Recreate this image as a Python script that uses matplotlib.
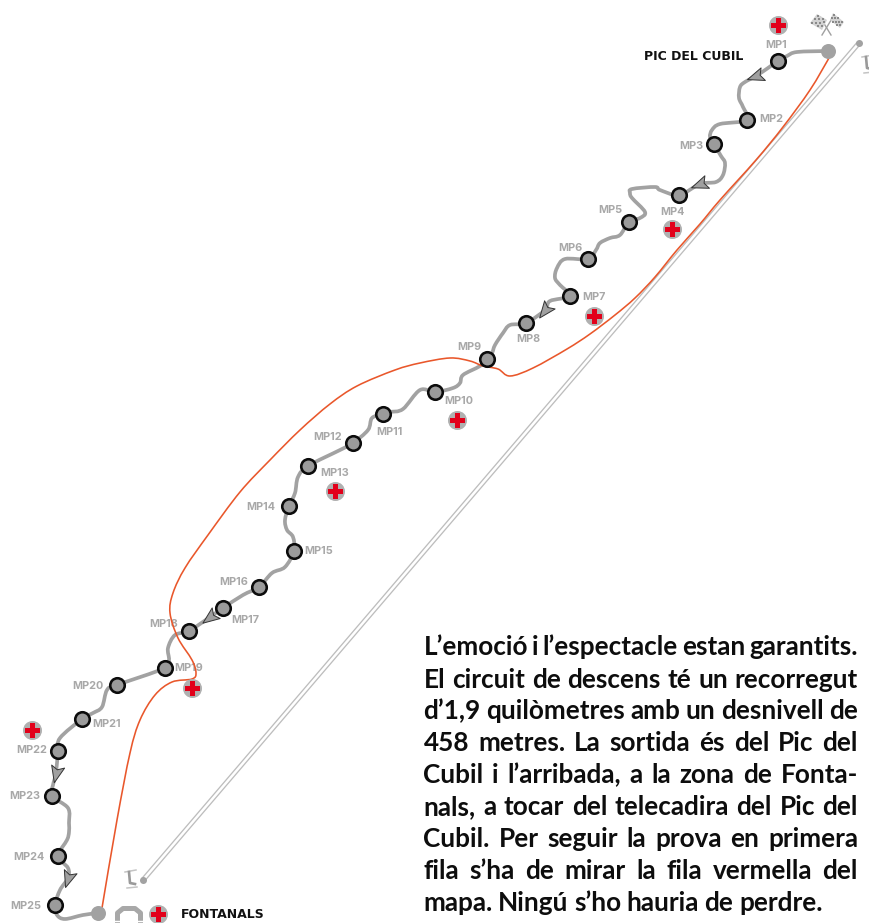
import numpy as np
import matplotlib
matplotlib.use("Agg")
import matplotlib.pyplot as plt
from matplotlib.path import Path
from matplotlib.patches import PathPatch, Polygon
from matplotlib.markers import MarkerStyle
from matplotlib.transforms import Affine2D

# route (picture coordinates)
route_x = [828,797,787,778,768,756,745,740,739,743,747,720,712,710,714,721,725,723,716,700,679,660,655,632,630,632,645,640,629,620,610,600,596,588,565,557,555,560,570,550,545,526,510,503,495,492,487,480,463,460,453,435,420,403,390,383,372,368,353,340,308,298,295,289,285,287,293,294,285,272,259,243,223,210,189,175,168,169,165,117,107,102,93,82,60,58,56,53,52,68,69,69,67,58,68,68,60,55,57,65,83,98]
route_y = [51,52,56,61,68,76,82,87,98,107,120,124,130,137,144,156,163,175,182,184,195,190,187,189,193,198,212,218,222,235,238,243,250,259,259,268,278,285,296,301,310,323,325,333,345,353,359,366,375,383,388,392,390,409,412,414,418,430,443,450,466,477,493,506,520,530,537,551,567,573,587,595,608,617,631,635,648,660,668,685,690,707,713,719,738,751,773,785,796,808,823,832,840,856,868,878,890,905,915,919,915,913]

# finish line (red)
red_x = [829,810,783,756,720,700,677,655,635,615,590,567,533,510,498,483,470,450,420,395,357,330,300,270,240,208,185,173,170,178,192,196,192,172,155,140,130,117,102]
red_y = [58,90,127,160,200,224,250,277,298,315,334,349,368,376,369,366,361,358,363,370,386,404,430,460,492,535,568,593,613,638,660,673,679,682,695,720,753,820,908]

# checkpoints
mp_names = [f"MP{i}" for i in range(1, 26)]
mp_x = [778,747,714,679,629,588,570,526,487,435,383,353,308,289,294,259,223,189,165,117,82,58,52,58,55]
mp_y = [61,120,144,195,222,259,296,323,359,392,414,443,466,506,551,587,608,631,668,685,719,751,796,856,905]
label_x = [776,771,691,672,610,570,594,528,469,459,389,328,335,261,319,234,245,164,189,88,107,32,25,29,26]
label_y = [45,119,146,212,210,248,297,339,347,401,432,437,473,507,551,582,620,624,668,686,724,750,796,857,906]

# first aid
aid_x = [778,672,594,457,335,192,32,158]
aid_y = [25,229,316,420,491,688,730,914]

# direction arrows: centre, tip direction in picture coordinates
arrow_x = [756,700,545,210,56,68]
arrow_y = [76,184,310,617,773,878]
arrow_dx = [-61,-38,-21,-32,-8,-10]
arrow_dy = [21,14,27,24,34,31]

# chair lift
lift_x = [859,143]
lift_y = [43,880]

body_lines = [
    "L’emoció i l’espectacle estan garantits.",
    "El circuit de descens té un recorregut",
    "d’1,9 quilòmetres amb un desnivell de",
    "458 metres. La sortida és del Pic del",
    "Cubil i l’arribada, a la zona de Fonta-",
    "nals, a tocar del telecadira del Pic del",
    "Cubil. Per seguir la prova en primera",
    "fila s’ha de mirar la fila vermella del",
    "mapa. Ningú s’ho hauria de perdre.",
]
body_base = [655,688,719,751,783,815,847,879,911]

GREY = "#a2a2a2"
LABEL = "#a8a8a8"
RED = "#e9572b"
PX = 0.72

fig = plt.figure(figsize=(8.7, 9.23), dpi=100, facecolor="white")
ax = fig.add_axes([0, 0, 1, 1])
ax.set_xlim(0, 870)
ax.set_ylim(923, 0)
ax.axis("off")


def smooth_path(xs, ys, k=1 / 6):
    p = np.column_stack([xs, ys]).astype(float)
    verts = [p[0]]
    codes = [Path.MOVETO]
    for i in range(len(p) - 1):
        p0 = p[max(i - 1, 0)]
        p1 = p[i]
        p2 = p[i + 1]
        p3 = p[min(i + 2, len(p) - 1)]
        verts += [p1 + (p2 - p0) * k, p2 - (p3 - p1) * k, p2]
        codes += [Path.CURVE4] * 3
    return Path(verts, codes)


# chair lift lines
lx = np.array(lift_x, float)
ly = np.array(lift_y, float)
d = np.array([lx[1] - lx[0], ly[1] - ly[0]])
n = np.array([-d[1], d[0]]) / np.hypot(*d)
for s in (-1.9, 1.9):
    ax.plot(lx + n[0] * s, ly + n[1] * s, color="#bdbdbd", lw=1.3 * PX, zorder=1, solid_capstyle="butt")
ax.scatter(lift_x, lift_y, s=(7 * PX) ** 2, color=GREY, lw=0, zorder=2)

# chair icons
for cx, cy in [(868, 64), (131, 879)]:
    ax.plot([cx - 6, cx + 5], [cy - 7, cy - 9], color="#c4c4c4", lw=1.1, zorder=2)
    ax.plot([cx - 4, cx + 6], [cy + 9, cy + 8], color="#c4c4c4", lw=1.1, zorder=2)
    ax.plot([cx - 2, cx - 1, cx + 4], [cy - 7, cy + 4, cy + 5], color="#9a9a9a", lw=1.9, zorder=2)

# route + red line
ax.add_patch(PathPatch(smooth_path(route_x, route_y), fc="none", ec=GREY, lw=3.7 * PX, capstyle="round", joinstyle="round", zorder=3))
ax.add_patch(PathPatch(smooth_path(red_x, red_y), fc="none", ec=RED, lw=1.6 * PX, capstyle="round", zorder=4))

# end dots
ax.scatter([route_x[0], route_x[-1]], [route_y[0], route_y[-1]], s=(15 * PX) ** 2, color=GREY, lw=0, zorder=5)

# arrows
arrow_shape = Path([(1, 0), (-0.75, 0.7), (-0.4, 0), (-0.75, -0.7), (1, 0)],
                   [Path.MOVETO, Path.LINETO, Path.LINETO, Path.LINETO, Path.CLOSEPOLY])
for x, y, dx, dy in zip(arrow_x, arrow_y, arrow_dx, arrow_dy):
    ang = np.degrees(np.arctan2(-dy, dx))
    m = MarkerStyle(arrow_shape, transform=Affine2D().rotate_deg(ang))
    ax.scatter([x], [y], marker=m, s=(19 * PX) ** 2, facecolor="#a0a0a0", edgecolor="#333333", lw=0.7, zorder=6)

# checkpoints
ax.scatter(mp_x, mp_y, s=(14.5 * PX) ** 2, facecolor="#9b9b9b", edgecolor="#0c0c0c", lw=2.6 * PX, zorder=7)
for name, x, y in zip(mp_names, label_x, label_y):
    ax.text(x, y, name, family="Inter", weight="bold", fontsize=7.8, color=LABEL, ha="center", va="center", zorder=3.5)

# first aid
ax.scatter(aid_x, aid_y, s=(19 * PX) ** 2, color="#b0b0b0", lw=0, zorder=6)
ax.scatter(aid_x, aid_y, s=(15 * PX) ** 2, marker="P", color="#e2001a", lw=0, zorder=7)

# flags
ax.plot([822, 833], [35, 17], color="#a0a0a0", lw=1.0, zorder=3)
ax.plot([831, 820], [35, 17], color="#a0a0a0", lw=1.0, zorder=3)
flag_polys = [[(810, 23), (817, 14), (827, 20), (822, 30)], [(833, 13), (844, 22), (840, 28), (830, 20)]]
for poly in flag_polys:
    a, b, c, e = [np.array(v, float) for v in poly]
    ax.add_patch(Polygon(poly, closed=True, fc="#d2d2d2", ec="none", zorder=3))
    for i in range(5):
        for j in range(4):
            if (i + j) % 2 == 0:
                u = (i + 0.5) / 5
                v = (j + 0.5) / 4
                pt = (1 - u) * ((1 - v) * a + v * e) + u * ((1 - v) * b + v * c)
                ax.scatter([pt[0]], [pt[1]], marker="s", s=3.4, color="#8a8a8a", lw=0, zorder=3.1)

# arch near Fontanals
ax.plot([117.5, 117.5, 123, 135, 140.5, 140.5], [923, 913, 908.5, 908.5, 913, 923], color="#a8a8a8", lw=5 * PX, zorder=3, solid_joinstyle="round")
ax.plot([113, 145], [920.5, 920.5], color="white", lw=1.0, zorder=3.1)

# place names
ax.text(644, 56, "PIC DEL CUBIL", family="DejaVu Sans", weight="bold", fontsize=9.0, color="#111111", ha="left", va="center", zorder=8)
ax.text(181, 915, "FONTANALS", family="DejaVu Sans", weight="bold", fontsize=9.0, color="#111111", ha="left", va="center", zorder=8)

# justified paragraph
fig.canvas.draw()
rend = fig.canvas.get_renderer()
x0, x1 = 423.5, 858
for idx, (line, yb) in enumerate(zip(body_lines, body_base)):
    words = line.split(" ")
    arts = [ax.text(0, yb, w, family="Lato", weight="bold", fontsize=18.8, color="#0d0d0d", ha="left", va="baseline", zorder=8) for w in words]
    widths = [a.get_window_extent(rend).width for a in arts]
    if idx == len(body_lines) - 1:
        gap = 5.5
    else:
        gap = (x1 - x0 - sum(widths)) / (len(words) - 1)
    x = x0
    for a, w in zip(arts, widths):
        a.set_x(x)
        x += w + gap

fig.savefig("out.png", dpi=100, facecolor="white")
